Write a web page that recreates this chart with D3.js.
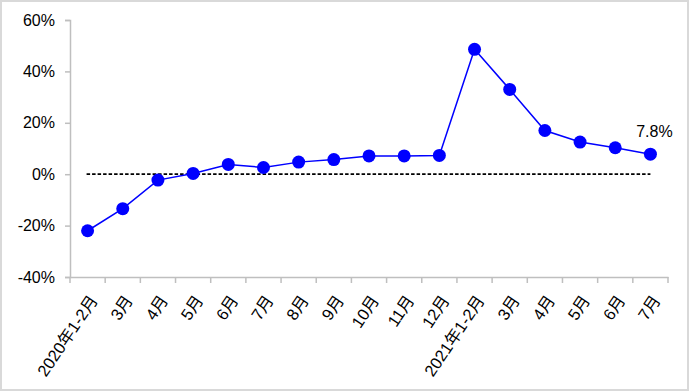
<!DOCTYPE html>
<html><head><meta charset="utf-8">
<script src="https://cdn.jsdelivr.net/npm/d3@7/dist/d3.min.js"></script>
<style>
html,body{margin:0;padding:0;background:#fff;}
svg{display:block;}
text{font-family:"Liberation Sans",Arial,"Noto Sans CJK SC",sans-serif;}
</style></head>
<body>
<svg id="chart" width="690" height="392"></svg>
<script>
const categories = ["2020年1-2月","3月","4月","5月","6月","7月","8月","9月","10月","11月","12月","2021年1-2月","3月","4月","5月","6月","7月"];
const values = [-22.0,-13.4,-2.3,0.3,3.8,2.6,4.7,5.7,7.1,7.1,7.3,48.6,33.0,17.0,12.5,10.3,7.8];
const yTicks = [-40,-20,0,20,40,60];
const lastLabel = "7.8%";

const svg = d3.select("#chart");
svg.append("rect").attr("x",1).attr("y",1).attr("width",687).attr("height",389)
  .attr("fill","#fff").attr("stroke","#d9d9d9").attr("stroke-width",2);

const x = d3.scaleBand().domain(d3.range(categories.length)).range([70,668]);
const y = d3.scaleLinear().domain([-40,60]).range([277,20]);

// y axis
const yAxis = svg.append("g").attr("transform","translate(70,0)")
  .call(d3.axisLeft(y).tickValues(yTicks).tickSize(5).tickPadding(10).tickFormat(d=>d+"%"));
yAxis.select(".domain").attr("stroke","#bfbfbf").attr("stroke-width",1.5);
yAxis.selectAll(".tick line").attr("stroke","#bfbfbf").attr("stroke-width",1.5);
yAxis.selectAll(".tick text").attr("font-size",16).attr("fill","#000");

// x axis
const xAxis = svg.append("g").attr("transform","translate(0,277)")
  .call(d3.axisBottom(x).tickSize(0).tickFormat(""));
xAxis.select(".domain").attr("stroke","#bfbfbf").attr("stroke-width",1.5);
xAxis.selectAll(".tick").remove();
const edges = d3.range(categories.length+1).map(i => i<categories.length ? x(i) : x(categories.length-1)+x.bandwidth());
svg.append("g").selectAll("line").data(edges).join("line")
  .attr("x1",d=>d).attr("x2",d=>d).attr("y1",277).attr("y2",283)
  .attr("stroke","#bfbfbf").attr("stroke-width",1.5);

svg.append("g").selectAll("text").data(categories).join("text")
  .attr("transform",(d,i)=>`translate(${x(i)+x.bandwidth()/2+6},${297}) rotate(-56)`)
  .attr("text-anchor","end").attr("dy","0.35em")
  .attr("font-size",16.5).attr("fill","#000").text(d=>d);

// zero dashed line
const cx = i => x(i)+x.bandwidth()/2;
svg.append("line").attr("x1",cx(0)-1).attr("x2",cx(categories.length-1)).attr("y1",y(0)).attr("y2",y(0))
  .attr("stroke","#000").attr("stroke-width",1.8).attr("stroke-dasharray","3.5,2");

// line
const line = d3.line().x((d,i)=>cx(i)).y(d=>y(d));
svg.append("path").datum(values).attr("d",line).attr("fill","none")
  .attr("stroke","#0000ff").attr("stroke-width",1.5);
svg.append("g").selectAll("circle").data(values).join("circle")
  .attr("cx",(d,i)=>cx(i)).attr("cy",d=>y(d)).attr("r",6.5).attr("fill","#0000ff");

const li = values.length-1;
svg.append("text").attr("x",cx(li)+4).attr("y",y(values[li])-17)
  .attr("text-anchor","middle").attr("font-size",16).attr("fill","#000").text(lastLabel);
</script>
</body></html>
